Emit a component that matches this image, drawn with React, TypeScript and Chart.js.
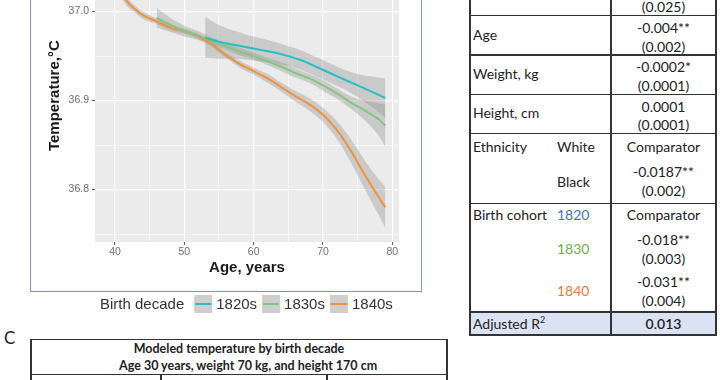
import React, { useEffect, useRef } from 'react';
import { Chart, registerables } from 'chart.js';
Chart.register(...registerables);

// ---------------- chart data ----------------
const seriesLabels = ['1820s', '1830s', '1840s'];
const seriesColors = ['#22c1c5', '#80c87b', '#f5903a'];

const ages1820s = [53, 55, 57, 59, 61, 63, 65, 67, 69, 71, 73, 75, 77, 79];
const temp1820s = [36.971, 36.966, 36.963, 36.960, 36.957, 36.954, 36.950, 36.945, 36.938, 36.931, 36.924, 36.917, 36.910, 36.903];
const ci1820s = [0.023, 0.019, 0.016, 0.014, 0.013, 0.012, 0.011, 0.011, 0.011, 0.011, 0.011, 0.013, 0.017, 0.022];

const ages1830s = [46, 48, 50, 52, 54, 56, 58, 60, 62, 64, 66, 68, 70, 72, 74, 76, 78, 79];
const temp1830s = [36.993, 36.985, 36.978, 36.973, 36.967, 36.961, 36.955, 36.950, 36.944, 36.938, 36.931, 36.925, 36.917, 36.908, 36.898, 36.889, 36.879, 36.872];
const ci1830s = [0.011, 0.008, 0.006, 0.005, 0.004, 0.004, 0.004, 0.004, 0.004, 0.005, 0.005, 0.005, 0.006, 0.006, 0.007, 0.011, 0.018, 0.024];

const ages1840s = [39.1, 40, 41, 42, 43, 44, 46, 48, 50, 52, 54, 56, 58, 60, 62, 64, 66, 68, 70, 72, 74, 76, 78, 79];
const temp1840s = [37.045, 37.033, 37.020, 37.009, 37.002, 36.996, 36.989, 36.982, 36.978, 36.972, 36.963, 36.951, 36.941, 36.933, 36.925, 36.915, 36.905, 36.896, 36.884, 36.867, 36.844, 36.817, 36.792, 36.780];
const ci1840s = [0.010, 0.008, 0.006, 0.005, 0.004, 0.004, 0.003, 0.003, 0.003, 0.003, 0.003, 0.003, 0.004, 0.004, 0.005, 0.005, 0.006, 0.007, 0.008, 0.010, 0.013, 0.016, 0.020, 0.023];

const xTicks = [40, 45, 50, 55, 60, 65, 70, 75, 80];
const xMajor = [40, 50, 60, 70, 80];
const yTicks = [36.75, 36.8, 36.85, 36.9, 36.95, 37.0, 37.05];
const yMajor = [36.8, 36.9, 37.0];

const xTitle = 'Age, years';
const yTitle = 'Temperature,°C';
const legendTitle = 'Birth decade';

// ---------------- table text ----------------
const coefRows = [
  { label: 'Age', est: '-0.004**', se: '(0.002)' },
  { label: 'Weight, kg', est: '-0.0002*', se: '(0.0001)' },
  { label: 'Height, cm', est: '0.0001', se: '(0.0001)' },
];
const cohortLabels = ['1820', '1830', '1840'];
const cohortColors = ['#4472c4', '#70ad47', '#ed7d31'];

const ggFont = '"Liberation Sans", Arial, Helvetica, sans-serif';
const tblFont = 'Lato, "Open Sans", sans-serif';

const isMajor = (v: number, list: number[]) => list.some((m) => Math.abs(m - v) < 1e-6);

const panelBg = {
  id: 'panelBg',
  beforeDraw(chart: any) {
    const { ctx, chartArea: a } = chart;
    ctx.save();
    ctx.fillStyle = '#ebebeb';
    ctx.fillRect(a.left, a.top, a.right - a.left, a.bottom - a.top);
    ctx.restore();
  },
};

const ggLegend = {
  id: 'ggLegend',
  afterDraw(chart: any) {
    const ctx = chart.ctx;
    ctx.save();
    ctx.font = `15px ${ggFont}`;
    ctx.textBaseline = 'middle';
    ctx.fillStyle = '#333333';
    const y = 364;
    let x = 70;
    ctx.fillText(legendTitle, x, y + 1);
    x += ctx.measureText(legendTitle).width + 10;
    chart.data.datasets.forEach((ds: any) => {
      if (!ds.isSeries) return;
      ctx.fillStyle = '#cecece';
      ctx.fillRect(x, y - 9, 18, 18);
      ctx.strokeStyle = ds.borderColor;
      ctx.lineWidth = 2;
      ctx.beginPath();
      ctx.moveTo(x + 1, y);
      ctx.lineTo(x + 17, y);
      ctx.stroke();
      x += 22;
      ctx.fillStyle = '#333333';
      ctx.fillText(ds.label, x, y + 1);
      x += ctx.measureText(ds.label).width + 5;
    });
    ctx.restore();
  },
};

function pts(ages: number[], vals: number[]) {
  return ages.map((a, i) => ({ x: a, y: vals[i] }));
}

function ChartPanel() {
  const ref = useRef<HTMLCanvasElement | null>(null);
  useEffect(() => {
    if (!ref.current) return;
    const ages = [ages1820s, ages1830s, ages1840s];
    const temps = [temp1820s, temp1830s, temp1840s];
    const cis = [ci1820s, ci1830s, ci1840s];
    const lineSets: any[] = seriesLabels.map((lab, i) => ({
      label: lab,
      isSeries: true,
      data: pts(ages[i], temps[i]),
      borderColor: seriesColors[i],
      borderWidth: 2,
      fill: false,
      pointRadius: 0,
      cubicInterpolationMode: 'monotone',
    }));
    const bandSets: any[] = [];
    seriesLabels.forEach((lab, i) => {
      bandSets.push({
        label: '_upper' + lab,
        data: pts(ages[i], temps[i].map((t, k) => t + cis[i][k])),
        borderWidth: 0,
        borderColor: 'rgba(0,0,0,0)',
        backgroundColor: 'rgba(153,153,153,0.4)',
        fill: '+1',
        pointRadius: 0,
        cubicInterpolationMode: 'monotone',
      });
      bandSets.push({
        label: '_lower' + lab,
        data: pts(ages[i], temps[i].map((t, k) => t - cis[i][k])),
        borderWidth: 0,
        borderColor: 'rgba(0,0,0,0)',
        fill: false,
        pointRadius: 0,
        cubicInterpolationMode: 'monotone',
      });
    });

    const chart = new Chart(ref.current, {
      type: 'line',
      data: { datasets: [...lineSets, ...bandSets] },
      options: {
        animation: false,
        responsive: false,
        devicePixelRatio: 1,
        layout: { padding: { left: 0, top: 6, right: 23, bottom: 24 } },
        plugins: { legend: { display: false }, tooltip: { enabled: false } },
        scales: {
          x: {
            type: 'linear',
            min: 37.11,
            max: 80.97,
            afterBuildTicks: (s: any) => {
              s.ticks = xTicks.map((v) => ({ value: v }));
            },
            afterFit: (s: any) => {
              s.height = 50;
            },
            ticks: {
              autoSkip: false,
              maxRotation: 0,
              padding: 1,
              color: '#6e6e6e',
              font: { family: ggFont, size: 10.5 },
              callback: (v: any) => (isMajor(Number(v), xMajor) ? String(v) : ''),
            },
            grid: {
              color: '#ffffff',
              lineWidth: (c: any) => (isMajor(c.tick.value, xMajor) ? 1.2 : 0.6),
              tickLength: 3,
              tickWidth: 1,
              tickColor: (c: any) => (isMajor(c.tick.value, xMajor) ? '#555555' : 'rgba(0,0,0,0)'),
            },
            border: { display: false },
            title: {
              display: true,
              text: xTitle,
              color: '#1a1a1a',
              font: { family: ggFont, size: 15, weight: 'bold' },
              padding: { top: 0, bottom: 15 },
            },
          },
          y: {
            type: 'linear',
            min: 36.7411,
            max: 37.07,
            afterBuildTicks: (s: any) => {
              s.ticks = yTicks.map((v) => ({ value: v }));
            },
            afterFit: (s: any) => {
              s.width = 65;
            },
            ticks: {
              autoSkip: false,
              padding: 3,
              color: '#6e6e6e',
              font: { family: ggFont, size: 10.5 },
              callback: (v: any) => (isMajor(Number(v), yMajor) ? Number(v).toFixed(1) : ''),
            },
            grid: {
              color: '#ffffff',
              lineWidth: (c: any) => (isMajor(c.tick.value, yMajor) ? 1.2 : 0.6),
              tickLength: 3,
              tickWidth: 1,
              tickColor: (c: any) => (isMajor(c.tick.value, yMajor) ? '#555555' : 'rgba(0,0,0,0)'),
            },
            border: { display: false },
            title: {
              display: true,
              text: yTitle,
              color: '#1a1a1a',
              font: { family: ggFont, size: 15, weight: 'bold' },
              padding: { top: 16, bottom: 0 },
            },
          },
        },
      } as any,
      plugins: [panelBg, ggLegend],
    });
    return () => chart.destroy();
  }, []);
  return (
    <div style={{ position: 'absolute', left: 30, top: -60, width: 392, height: 376 }}>
      <canvas ref={ref} width={392} height={376} style={{ width: 392, height: 376, display: 'block' }} />
    </div>
  );
}

const Txt = ({ x, y, children, align = 'left', color = '#222', size = 14, weight = 400, family = tblFont }: any) => {
  const h = 20;
  const style: any = {
    position: 'absolute',
    top: y - h / 2,
    height: h,
    lineHeight: h + 'px',
    fontSize: size,
    fontWeight: weight,
    color,
    fontFamily: family,
    whiteSpace: 'nowrap',
  };
  if (align === 'center') {
    style.left = x - 120;
    style.width = 240;
    style.textAlign = 'center';
  } else {
    style.left = x;
  }
  return <div style={style}>{children}</div>;
};

const HL = ({ x1, x2, y, c = '#333', w = 1.5 }: any) => (
  <div style={{ position: 'absolute', left: x1, top: y - w / 2, width: x2 - x1, height: w, background: c }} />
);
const VL = ({ x, y1, y2, c = '#333', w = 1.5 }: any) => (
  <div style={{ position: 'absolute', left: x - w / 2, top: y1, width: w, height: y2 - y1, background: c }} />
);

export default function App() {
  const L = 470, M = 611, R = 716, S = 557;
  const cx = (M + R) / 2;
  const lx = 473;
  return (
    <div style={{ position: 'fixed', left: 0, top: 0, width: 720, height: 380, overflow: 'hidden', background: '#ffffff' }}>
      <ChartPanel />
      {/* chart box border */}
      <div style={{ position: 'absolute', left: 30, top: -10, width: 392, height: 302, border: '1.5px solid #7d93c1', boxSizing: 'border-box', pointerEvents: 'none' }} />

      {/* right regression table */}
      <div style={{ position: 'absolute', left: L, top: 312, width: R - L, height: 23, background: '#dae3f3' }} />
      <VL x={L} y1={-20} y2={336} />
      <VL x={M} y1={-20} y2={336} />
      <VL x={R} y1={-20} y2={336} />
      {[15.7, 55, 94.3, 133.3, 203.3, 312, 335].map((y) => (
        <HL key={y} x1={L} x2={R + 0.75} y={y} />
      ))}
      <Txt x={lx} y={-7}>Intercept</Txt>
      <Txt x={cx} y={7} align="center">(0.025)</Txt>
      {coefRows.map((r, i) => (
        <React.Fragment key={r.label}>
          <Txt x={lx} y={35 + i * 39}>{r.label}</Txt>
          <Txt x={cx} y={28 + i * 39.3} align="center">{r.est}</Txt>
          <Txt x={cx} y={46.5 + i * 39.3} align="center">{r.se}</Txt>
        </React.Fragment>
      ))}
      <Txt x={lx} y={147}>Ethnicity</Txt>
      <Txt x={S} y={147}>White</Txt>
      <Txt x={cx} y={147} align="center">Comparator</Txt>
      <Txt x={S} y={182}>Black</Txt>
      <Txt x={cx} y={172} align="center">-0.0187**</Txt>
      <Txt x={cx} y={191} align="center">(0.002)</Txt>
      <Txt x={lx} y={215}>Birth cohort</Txt>
      <Txt x={S} y={215} color={cohortColors[0]}>{cohortLabels[0]}</Txt>
      <Txt x={cx} y={215} align="center">Comparator</Txt>
      <Txt x={S} y={249} color={cohortColors[1]}>{cohortLabels[1]}</Txt>
      <Txt x={cx} y={240} align="center">-0.018**</Txt>
      <Txt x={cx} y={259} align="center">(0.003)</Txt>
      <Txt x={S} y={291} color={cohortColors[2]}>{cohortLabels[2]}</Txt>
      <Txt x={cx} y={282} align="center">-0.031**</Txt>
      <Txt x={cx} y={301} align="center">(0.004)</Txt>
      <Txt x={lx} y={323.5}>
        Adjusted R<sup style={{ fontSize: 9, verticalAlign: 'super', lineHeight: 0 }}>2</sup>
      </Txt>
      <Txt x={cx} y={323.5} align="center" weight={600}>0.013</Txt>

      {/* bottom table C */}
      <Txt x={4} y={338} size={17} color="#222">C</Txt>
      <HL x1={31} x2={447.75} y={339.5} />
      <HL x1={31} x2={447.75} y={374.5} />
      <VL x={31} y1={339} y2={385} />
      <VL x={447} y1={339} y2={385} />
      <VL x={161} y1={374} y2={385} />
      <VL x={327} y1={374} y2={385} />
      <Txt x={239} y={348.5} align="center" weight={700} size={12.5}>Modeled temperature by birth decade</Txt>
      <Txt x={239} y={365.5} align="center" weight={700} size={12.5}>Age 30 years, weight 70 kg, and height 170 cm</Txt>
    </div>
  );
}
